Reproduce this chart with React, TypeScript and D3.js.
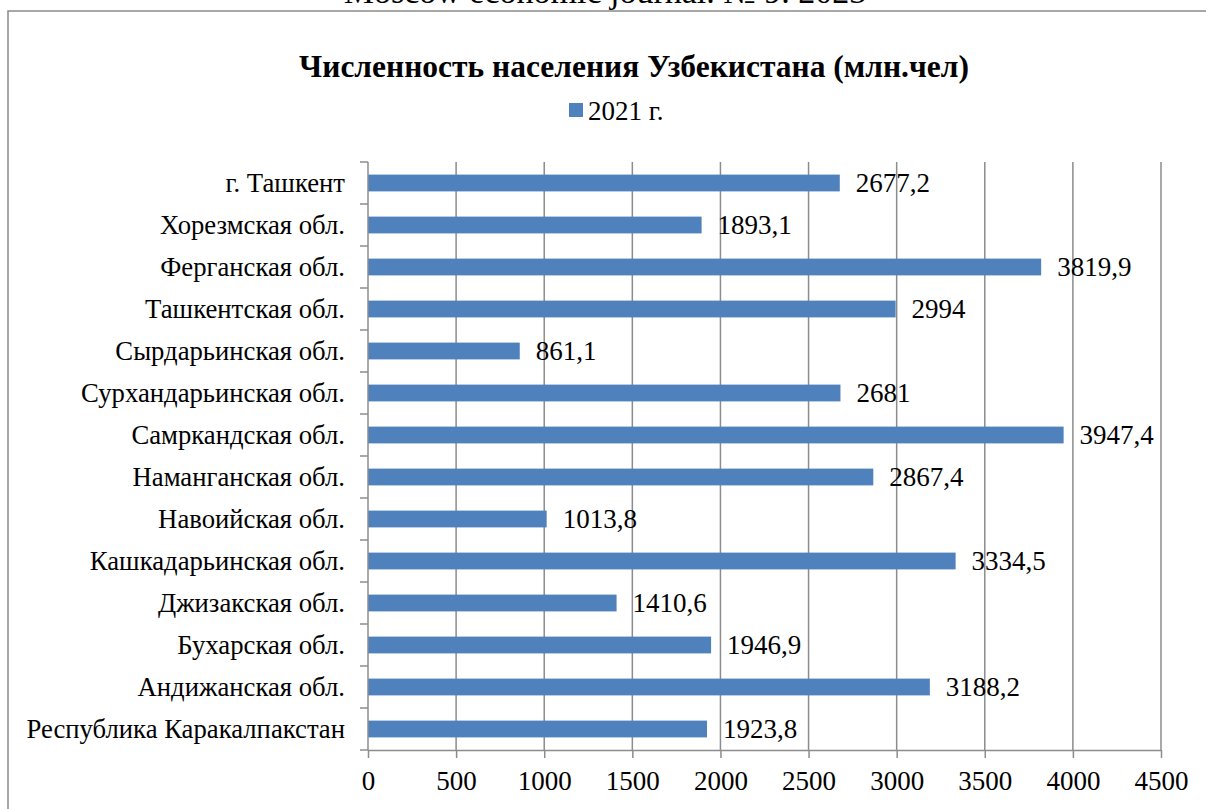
import * as d3 from "d3";
import { useEffect, useRef } from "react";

const regions = [
  "г. Ташкент",
  "Хорезмская обл.",
  "Ферганская обл.",
  "Ташкентская обл.",
  "Сырдарьинская обл.",
  "Сурхандарьинская обл.",
  "Самркандская обл.",
  "Наманганская обл.",
  "Навоийская обл.",
  "Кашкадарьинская обл.",
  "Джизакская обл.",
  "Бухарская обл.",
  "Андижанская обл.",
  "Республика Каракалпакстан",
];

const values2021 = [
  2677.2, 1893.1, 3819.9, 2994, 861.1, 2681, 3947.4, 2867.4, 1013.8, 3334.5,
  1410.6, 1946.9, 3188.2, 1923.8,
];

const valueLabels = [
  "2677,2", "1893,1", "3819,9", "2994", "861,1", "2681", "3947,4", "2867,4",
  "1013,8", "3334,5", "1410,6", "1946,9", "3188,2", "1923,8",
];

const xTicks = [0, 500, 1000, 1500, 2000, 2500, 3000, 3500, 4000, 4500];

const App: React.FC = () => {
  const ref = useRef<SVGSVGElement | null>(null);

  useEffect(() => {
    if (!ref.current) return;
    const font = "'Liberation Serif', 'Times New Roman', serif";
    const gridColor = "#8c8c8c";
    const barColor = "#4f81bd";

    const svg = d3.select(ref.current);
    svg.selectAll("*").remove();

    // journal header, mostly cut off at the top
    svg
      .append("text")
      .attr("x", 605)
      .attr("y", 3)
      .attr("text-anchor", "middle")
      .attr("font-family", font)
      .attr("font-size", 34)
      .text("Moscow economic journal. № 9. 2023");

    // chart border
    svg
      .append("rect")
      .attr("x", 8)
      .attr("y", 11)
      .attr("width", 1220)
      .attr("height", 820)
      .attr("fill", "none")
      .attr("stroke", "#8a8a8a")
      .attr("stroke-width", 1.5);

    svg
      .append("text")
      .attr("x", 634)
      .attr("y", 77)
      .attr("text-anchor", "middle")
      .attr("font-family", font)
      .attr("font-weight", "bold")
      .attr("font-size", 31.5)
      .text("Численность населения Узбекистана (млн.чел)");

    // legend
    svg
      .append("rect")
      .attr("x", 569)
      .attr("y", 103)
      .attr("width", 14)
      .attr("height", 14)
      .attr("fill", barColor);
    svg
      .append("text")
      .attr("x", 588)
      .attr("y", 120)
      .attr("font-family", font)
      .attr("font-size", 27)
      .text("2021 г.");

    const left = 368;
    const right = 1161;
    const top = 162;
    const bottom = 750;

    const x = d3.scaleLinear().domain([0, 4500]).range([left, right]);
    const y = d3
      .scaleBand<string>()
      .domain(regions)
      .range([top, bottom])
      .paddingInner(0.6)
      .paddingOuter(0.3);
    const band = d3.scaleBand<string>().domain(regions).range([top, bottom]);

    // vertical grid
    svg
      .append("g")
      .selectAll("line")
      .data(xTicks.slice(1))
      .join("line")
      .attr("x1", (d) => x(d))
      .attr("x2", (d) => x(d))
      .attr("y1", top)
      .attr("y2", bottom)
      .attr("stroke", gridColor)
      .attr("stroke-width", 1.5);

    // bars
    svg
      .append("g")
      .selectAll("rect")
      .data(values2021)
      .join("rect")
      .attr("x", x(0))
      .attr("y", (_, i) => y(regions[i]) ?? 0)
      .attr("width", (d) => x(d) - x(0))
      .attr("height", y.bandwidth())
      .attr("fill", barColor);

    // value labels
    svg
      .append("g")
      .selectAll("text")
      .data(values2021)
      .join("text")
      .attr("x", (d) => x(d) + 16)
      .attr("y", (_, i) => (y(regions[i]) ?? 0) + y.bandwidth() / 2)
      .attr("dy", "0.35em")
      .attr("font-family", font)
      .attr("font-size", 27)
      .text((_, i) => valueLabels[i]);

    // bottom axis
    const xAxis = svg
      .append("g")
      .attr("transform", `translate(0,${bottom})`)
      .call(
        d3
          .axisBottom(x)
          .tickValues(xTicks)
          .tickSize(8)
          .tickSizeOuter(0)
          .tickPadding(13)
          .tickFormat((d) => String(d))
      );
    xAxis.select(".domain").attr("stroke", gridColor).attr("stroke-width", 1.5);
    xAxis.selectAll("line").attr("stroke", gridColor).attr("stroke-width", 1.5);
    xAxis
      .selectAll("text")
      .attr("font-family", font)
      .attr("font-size", 27)
      .attr("fill", "#000");

    // left axis with category ticks at band boundaries
    svg
      .append("line")
      .attr("x1", left)
      .attr("x2", left)
      .attr("y1", top)
      .attr("y2", bottom)
      .attr("stroke", gridColor)
      .attr("stroke-width", 1.5);
    svg
      .append("g")
      .selectAll("line")
      .data([...regions, ""])
      .join("line")
      .attr("x1", left - 8)
      .attr("x2", left)
      .attr("y1", (d) => (d === "" ? bottom : band(d) ?? 0))
      .attr("y2", (d) => (d === "" ? bottom : band(d) ?? 0))
      .attr("stroke", gridColor)
      .attr("stroke-width", 1.5);

    svg
      .append("g")
      .selectAll("text")
      .data(regions)
      .join("text")
      .attr("x", left - 23)
      .attr("y", (d) => (band(d) ?? 0) + band.bandwidth() / 2)
      .attr("dy", "0.35em")
      .attr("text-anchor", "end")
      .attr("font-family", font)
      .attr("font-size", 26.7)
      .text((d) => d);
  }, []);

  return (
    <svg
      ref={ref}
      width={1206}
      height={809}
      style={{ position: "absolute", left: 0, top: 0, background: "#fff" }}
    />
  );
};

export default App;
